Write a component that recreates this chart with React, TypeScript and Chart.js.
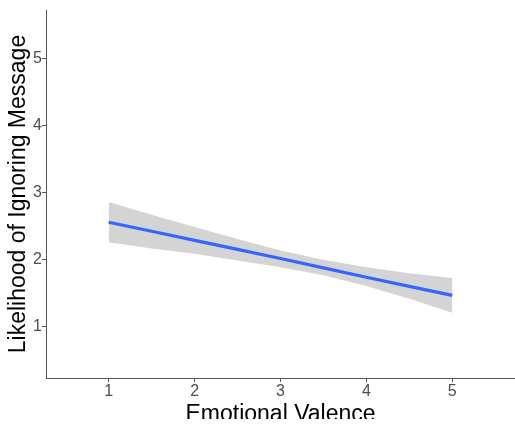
import React, { useEffect, useRef } from "react";
import { Chart, registerables } from "chart.js";

Chart.register(...registerables);

const xValues = [1, 1.5, 2, 2.5, 3, 3.5, 4, 4.5, 5];
const fitValues = [2.56, 2.425, 2.29, 2.155, 2.02, 1.88, 1.74, 1.605, 1.47];
const upperValues = [2.86, 2.67, 2.49, 2.31, 2.14, 2.0, 1.89, 1.8, 1.73];
const lowerValues = [2.26, 2.17, 2.09, 1.99, 1.89, 1.77, 1.61, 1.42, 1.21];
const xTicks = [1, 2, 3, 4, 5];
const yTicks = [1, 2, 3, 4, 5];
const xTitle = "Emotional Valence";
const yTitle = "Likelihood of Ignoring Message";

const W = 515;
const H = 440;
const CLIP_H = 419;

export default function App() {
  const ref = useRef<HTMLCanvasElement | null>(null);
  useEffect(() => {
    if (!ref.current) return;
    const pts = (ys: number[]) => xValues.map((x, i) => ({ x, y: ys[i] }));
    const tickFont = { family: "'Liberation Sans', Arial, sans-serif", size: 16 };
    const titleFont = { family: "'Liberation Sans', Arial, sans-serif", size: 23 };
    const chart = new Chart(ref.current, {
      type: "line",
      data: {
        datasets: [
          {
            data: pts(fitValues),
            borderColor: "#3366FF",
            borderWidth: 3.2,
            pointRadius: 0,
            fill: false,
            tension: 0,
          },
          {
            data: pts(upperValues),
            borderWidth: 0,
            borderColor: "rgba(0,0,0,0)",
            pointRadius: 0,
            backgroundColor: "rgba(153,153,153,0.42)",
            fill: "+1",
            tension: 0,
          },
          {
            data: pts(lowerValues),
            borderWidth: 0,
            borderColor: "rgba(0,0,0,0)",
            pointRadius: 0,
            fill: false,
            tension: 0,
          },
        ],
      },
      options: {
        responsive: false,
        animation: false,
        layout: { padding: { top: 10, right: 0, left: 0, bottom: 0 } },
        plugins: { legend: { display: false }, tooltip: { enabled: false } },
        scales: {
          x: {
            type: "linear",
            min: 0.27,
            max: 5.73,
            afterFit: (s: any) => {
              s.height = H - 378;
            },
            afterBuildTicks: (s: any) => {
              s.ticks = xTicks.map((v) => ({ value: v }));
            },
            grid: {
              drawOnChartArea: false,
              drawTicks: true,
              tickLength: 4,
              tickColor: "#555",
            },
            border: { display: true, color: "#555", width: 1 },
            ticks: { color: "#4d4d4d", font: tickFont, padding: 0, maxRotation: 0 },
            title: {
              display: true,
              text: xTitle,
              color: "#000",
              font: titleFont,
              padding: { top: 0, bottom: 12 },
            },
          },
          y: {
            type: "linear",
            min: 0.24,
            max: 5.72,
            afterFit: (s: any) => {
              s.width = 46;
            },
            afterBuildTicks: (s: any) => {
              s.ticks = yTicks.map((v) => ({ value: v }));
            },
            grid: {
              drawOnChartArea: false,
              drawTicks: true,
              tickLength: 4,
              tickColor: "#555",
            },
            border: { display: true, color: "#555", width: 1 },
            ticks: { color: "#4d4d4d", font: tickFont, padding: 0 },
            title: {
              display: true,
              text: yTitle,
              color: "#000",
              font: titleFont,
              padding: { top: 5, bottom: 0 },
            },
          },
        },
      },
    });
    return () => chart.destroy();
  }, []);
  return (
    <div
      style={{
        position: "absolute",
        left: 0,
        top: 0,
        width: W,
        height: CLIP_H,
        overflow: "hidden",
        background: "#fff",
      }}
    >
      <canvas ref={ref} width={W} height={H} style={{ display: "block" }} />
    </div>
  );
}
